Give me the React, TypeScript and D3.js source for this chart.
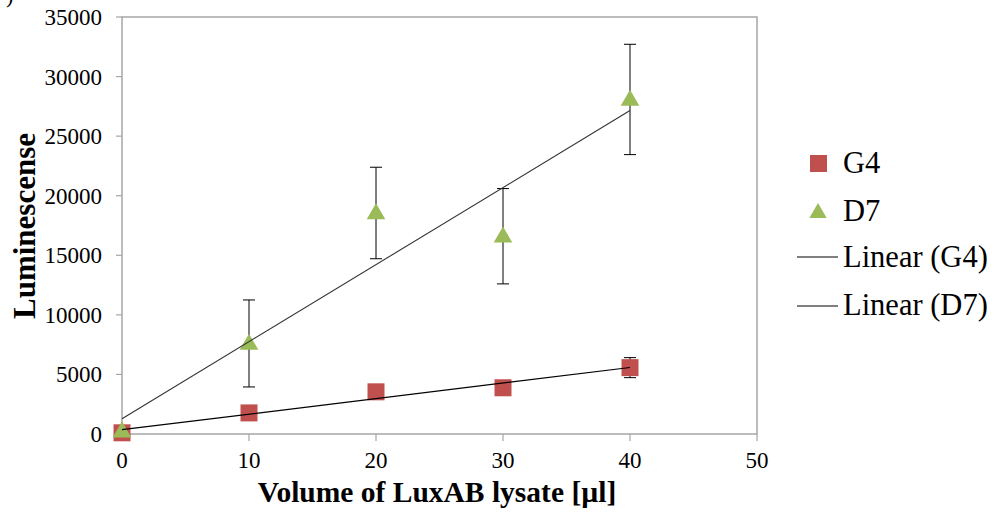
import React from "react";
import * as d3 from "d3";

const volumes = [0, 10, 20, 30, 40];
const g4Values = [100, 1770, 3540, 3880, 5570];
const g4Errors = [150, 300, 350, 300, 840];
const d7Values = [250, 7600, 18550, 16600, 28080];
const d7Errors = [200, 3650, 3840, 4000, 4630];
const xTicks = [0, 10, 20, 30, 40, 50];
const yTicks = [0, 5000, 10000, 15000, 20000, 25000, 30000, 35000];
const legendLabels = ["G4", "D7", "Linear (G4)", "Linear (D7)"];

const RED = "#C0504D";
const GREEN = "#9BBB59";
const AXIS = "#A6A6A6";
const FONT = "'Liberation Serif', 'Times New Roman', serif";

function fit(xs: number[], ys: number[]) {
  const mx = d3.mean(xs)!;
  const my = d3.mean(ys)!;
  let num = 0, den = 0;
  xs.forEach((x, i) => { num += (x - mx) * (ys[i] - my); den += (x - mx) ** 2; });
  const slope = num / den;
  return { slope, intercept: my - slope * mx };
}

export default function App() {
  const W = 1000, H = 515;
  const left = 122, right = 757, top = 17, bottom = 434;
  const x = d3.scaleLinear().domain([0, 50]).range([left, right]);
  const y = d3.scaleLinear().domain([0, 35000]).range([bottom, top]);

  const g4Fit = fit(volumes, g4Values);
  const d7Fit = fit(volumes, d7Values);
  const fitLine = (f: { slope: number; intercept: number }) =>
    d3.line<[number, number]>().x((d) => x(d[0])).y((d) => y(d[1]))([
      [0, f.intercept],
      [40, f.intercept + f.slope * 40],
    ]) as string;

  const sq = 17;
  const tri = d3.symbol().type(d3.symbolTriangle).size(150)() as string;

  const errBars = (vals: number[], errs: number[], key: string) =>
    volumes.map((v, i) => {
      const cx = x(v);
      const y1 = y(vals[i] + errs[i]);
      const y2 = y(Math.max(0, vals[i] - errs[i]));
      return (
        <g key={key + i} stroke="#000" strokeWidth={1}>
          <line x1={cx} x2={cx} y1={y1} y2={y2} />
          <line x1={cx - 6} x2={cx + 6} y1={y1} y2={y1} />
          <line x1={cx - 6} x2={cx + 6} y1={y2} y2={y2} />
        </g>
      );
    });

  return (
    <svg width={W} height={H} style={{ position: "absolute", left: 0, top: 0, background: "#fff" }}>
      <rect x={0} y={0} width={W} height={H} fill="#fff" />
      <text x={6} y={3} fontFamily={FONT} fontSize={22} fill="#000">)</text>
      {/* plot box */}
      <rect x={left} y={top} width={right - left} height={bottom - top} fill="none" stroke={AXIS} strokeWidth={1.5} />
      {/* y ticks */}
      {yTicks.map((t) => (
        <g key={"yt" + t}>
          <line x1={left - 6} x2={left} y1={y(t)} y2={y(t)} stroke={AXIS} strokeWidth={1.2} />
          <text x={102} y={y(t)} dy="0.35em" textAnchor="end" fontFamily={FONT} fontSize={23} fill="#000">{t}</text>
        </g>
      ))}
      {xTicks.map((t) => (
        <g key={"xt" + t}>
          <line x1={x(t)} x2={x(t)} y1={bottom} y2={bottom + 7} stroke={AXIS} strokeWidth={1.2} />
          <text x={x(t)} y={468} textAnchor="middle" fontFamily={FONT} fontSize={23} fill="#000">{t}</text>
        </g>
      ))}
      {/* error bars */}
      {errBars(g4Values, g4Errors, "g")}
      {errBars(d7Values, d7Errors, "d")}
      {/* markers */}
      {volumes.map((v, i) => (
        <rect key={"g4" + i} x={x(v) - sq / 2} y={y(g4Values[i]) - sq / 2} width={sq} height={sq} fill={RED} />
      ))}
      {volumes.map((v, i) => (
        <path key={"d7" + i} d={tri} transform={`translate(${x(v)},${y(d7Values[i]) + 1})`} fill={GREEN} />
      ))}
      {/* trendlines */}
      <path d={fitLine(g4Fit)} stroke="#000" strokeWidth={1.2} fill="none" />
      <path d={fitLine(d7Fit)} stroke="#333" strokeWidth={1.1} fill="none" />
      {/* axis titles */}
      <text x={437} y={502} textAnchor="middle" fontFamily={FONT} fontSize={29.5} fontWeight="bold" fill="#000">
        Volume of LuxAB lysate [µl]
      </text>
      <text transform="translate(35,226) rotate(-90)" textAnchor="middle" fontFamily={FONT} fontSize={31} fontWeight="bold" fill="#000">
        Luminescense
      </text>
      {/* legend */}
      <rect x={810} y={155} width={17} height={17} fill={RED} />
      <text x={843} y={173} fontFamily={FONT} fontSize={30.5} fill="#000">{legendLabels[0]}</text>
      <path d={d3.symbol().type(d3.symbolTriangle).size(130)() as string} transform="translate(818,213)" fill={GREEN} />
      <text x={843} y={221} fontFamily={FONT} fontSize={30.5} fill="#000">{legendLabels[1]}</text>
      <line x1={797} x2={838} y1={257} y2={257} stroke="#000" strokeWidth={1.2} />
      <text x={843} y={267} fontFamily={FONT} fontSize={30.5} fill="#000">{legendLabels[2]}</text>
      <line x1={797} x2={838} y1={306} y2={306} stroke="#000" strokeWidth={1.2} />
      <text x={843} y={315} fontFamily={FONT} fontSize={30.5} fill="#000">{legendLabels[3]}</text>
    </svg>
  );
}
